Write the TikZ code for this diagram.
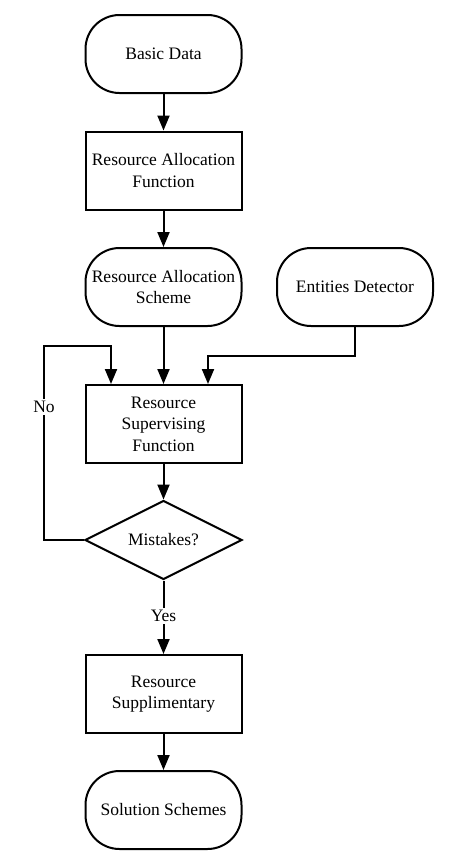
\documentclass[tikz,border=0pt]{standalone}
\usepackage{fontspec}
\setmainfont{Liberation Serif}
\usetikzlibrary{arrows.meta,shapes.geometric}
\begin{document}
\begin{tikzpicture}[x=1pt,y=-1pt,
  base/.style={draw=black,line width=2pt,minimum width=156pt,minimum height=78pt,inner sep=2pt,align=center,font=\fontsize{17.5}{21.5}\selectfont},
  term/.style={base,rounded corners=34pt},
  proc/.style={base},
  dec/.style={draw=black,line width=2pt,diamond,aspect=2,minimum width=157pt,minimum height=79pt,inner sep=0pt,align=center,font=\fontsize{17.5}{21.5}\selectfont},
  arr/.style={line width=2pt,-{Triangle[length=15pt,width=12pt]}},
  lbl/.style={fill=white,inner sep=2pt,font=\fontsize{17.5}{21.5}\selectfont}]
\useasboundingbox (0,0) rectangle (452,863);
\node[term] (bd) at (163.5,54) {Basic Data};
\node[proc] (raf) at (163.5,170.5) {Resource Allocation\\Function};
\node[term] (ras) at (163.5,287) {Resource Allocation\\Scheme};
\node[term] (ed) at (355,287) {Entities Detector};
\node[proc] (rsf) at (163.5,424) {Resource\\Supervising\\Function};
\node[dec] (dia) at (163.5,540) {Mistakes?};
\node[proc] (rs) at (163.5,694) {Resource\\Supplimentary};
\node[term] (ss) at (163.5,810) {Solution Schemes};
\coordinate (edk) at (355,356);
\coordinate (nl) at (44,346);
\draw[arr] (bd) -- (raf);
\draw[arr] (raf) -- (ras);
\draw[arr] (ras) -- (rsf);
\draw[arr] (ed.south) -- (edk) -| ([xshift=44.5pt]rsf.north);
\draw[arr] (dia.west) -| (nl) -| ([xshift=-52.5pt]rsf.north);
\node[lbl] (no) at (44,407) {No};
\draw[arr] (rsf) -- (dia);
\draw[arr] (dia) -- (rs);
\node[lbl] (yes) at (163.5,616) {Yes};
\draw[arr] (rs) -- (ss);
\end{tikzpicture}
\end{document}
